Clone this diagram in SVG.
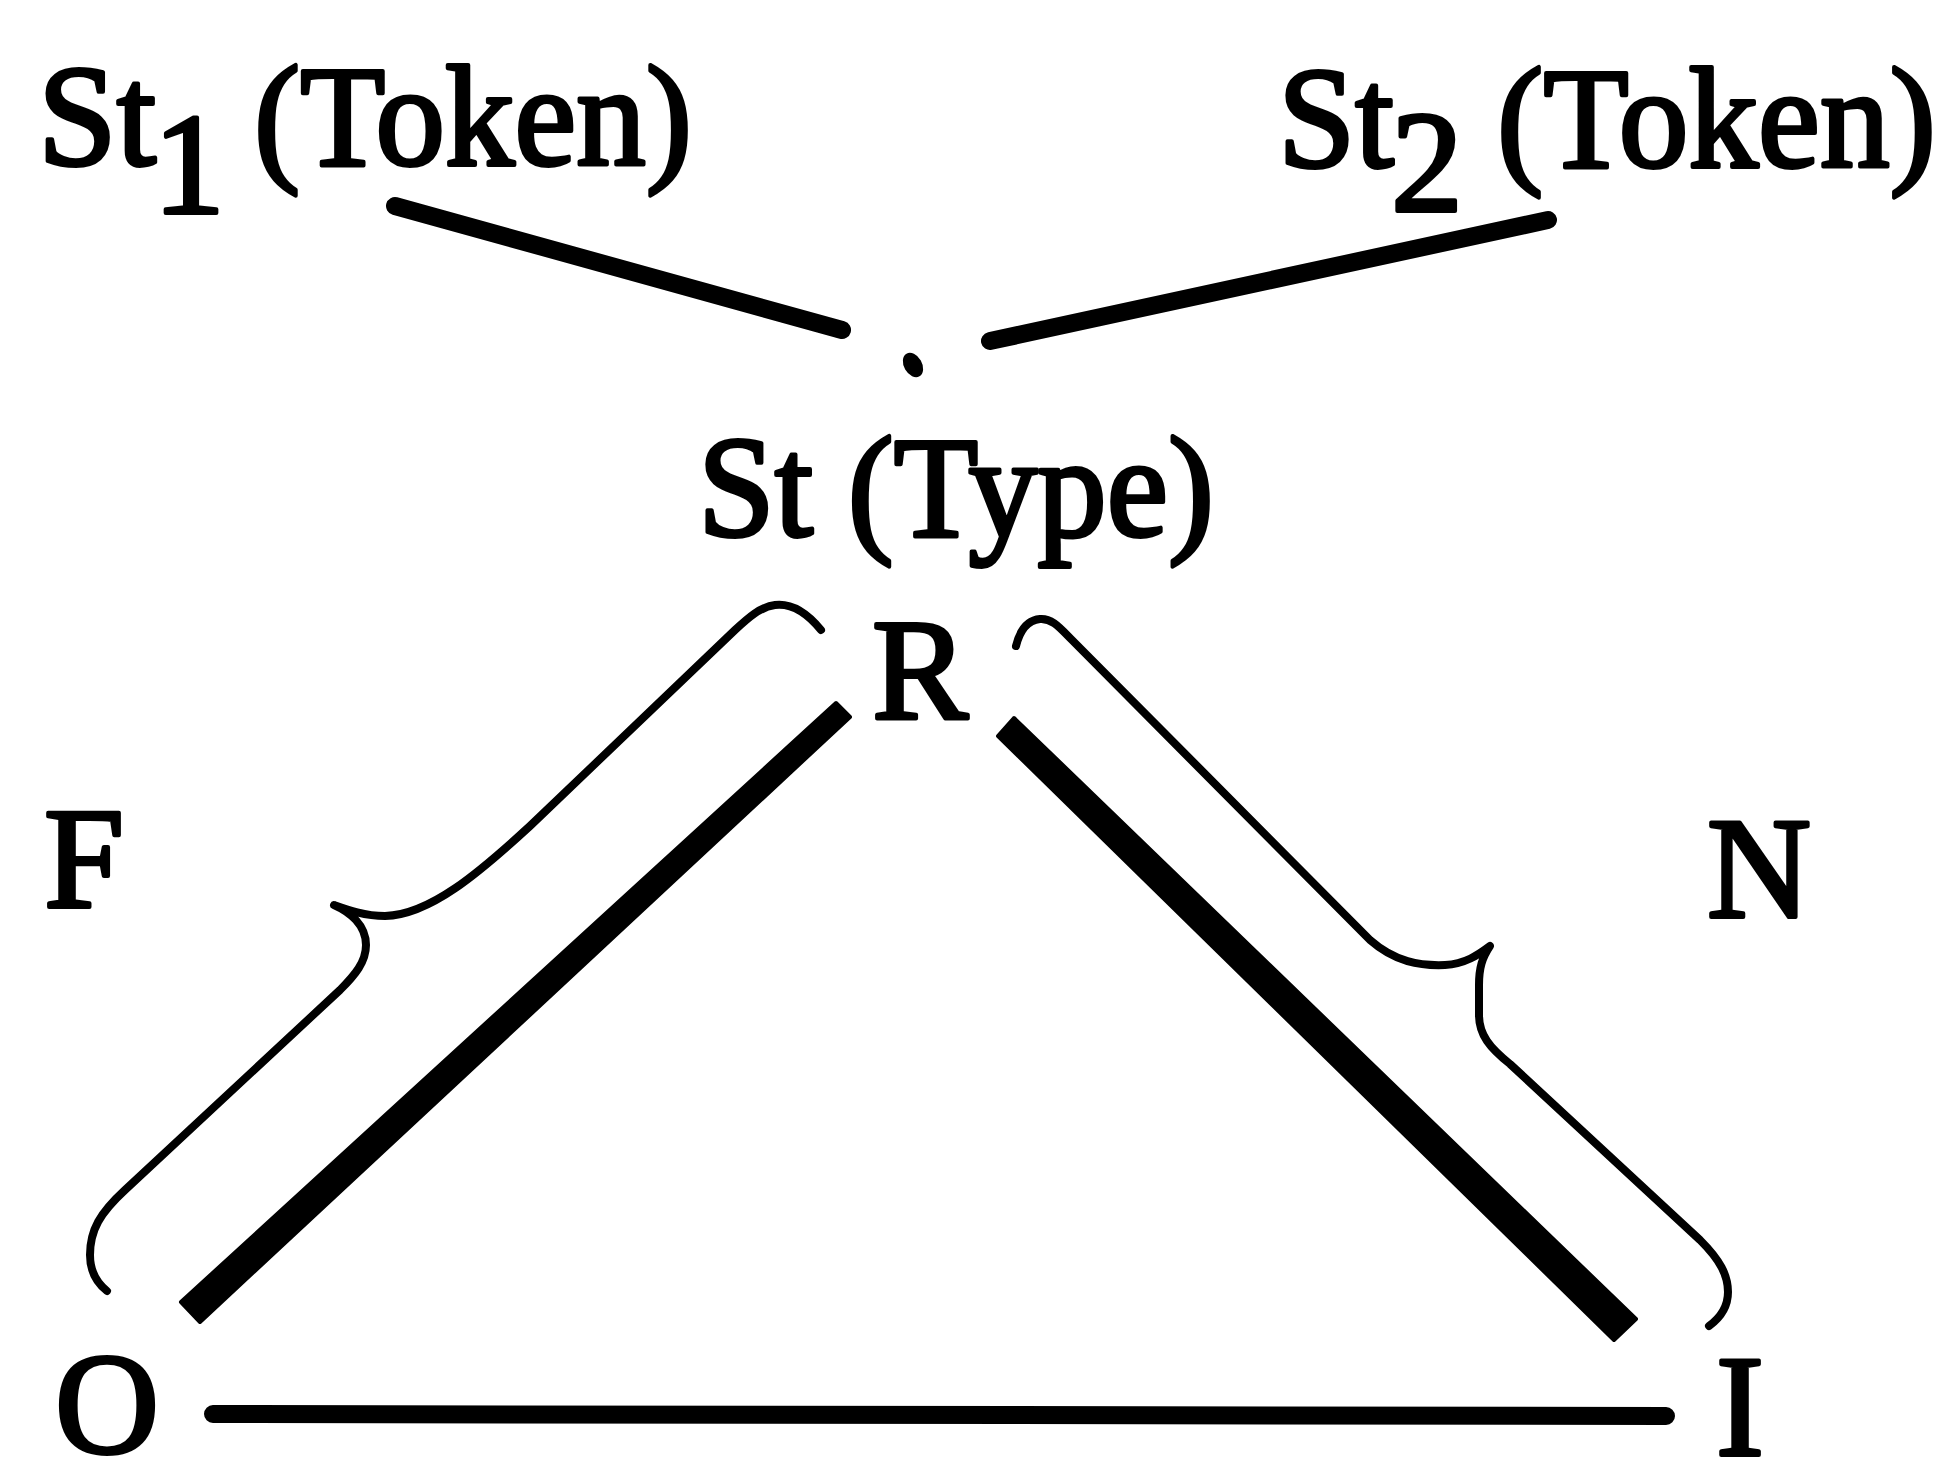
<svg xmlns="http://www.w3.org/2000/svg" width="1951" height="1462" viewBox="0 0 1951 1462">
  <style>
    .lbl { font-family: "Liberation Serif", "Times New Roman", serif; font-size: 144px; fill: #000; stroke: #000; stroke-width: 4; stroke-linejoin: round; }
    .thin { fill: none; stroke: #000; stroke-width: 18; stroke-linecap: round; }
    .brace { fill: none; stroke: #000; stroke-width: 8; stroke-linecap: round; stroke-linejoin: round; }
    .thick { fill: #000; stroke: #000; stroke-width: 4; stroke-linejoin: round; }
  </style>
  <rect width="1951" height="1462" fill="#fff"/>

  <g id="st1-token">
    <text class="lbl" x="38" y="165" textLength="118" lengthAdjust="spacingAndGlyphs">St</text>
    <text class="lbl" x="153" y="213">1</text>
    <text class="lbl" x="254" y="165" textLength="438" lengthAdjust="spacingAndGlyphs">(Token)</text>
  </g>
  <g id="st2-token">
    <text class="lbl" x="1278" y="167" textLength="116" lengthAdjust="spacingAndGlyphs">St</text>
    <text class="lbl" x="1391" y="211">2</text>
    <text class="lbl" x="1497" y="167" textLength="439" lengthAdjust="spacingAndGlyphs">(Token)</text>
  </g>
  <g id="st-type">
    <text class="lbl" x="698" y="536" textLength="516" lengthAdjust="spacingAndGlyphs">St (Type)</text>
  </g>
  <g id="node-R"><text class="lbl" x="872" y="718">R</text></g>
  <g id="label-F"><text class="lbl" x="44" y="907">F</text></g>
  <g id="label-N"><text class="lbl" x="1707" y="917">N</text></g>
  <g id="node-O"><text class="lbl" x="55" y="1453">O</text></g>
  <g id="node-I"><text class="lbl" x="1716" y="1455">I</text></g>

  <g id="connectors">
    <path class="thin" d="M 395 206 L 842 330"/>
    <path class="thin" d="M 990 341 L 1548 220"/>
    <ellipse cx="913" cy="365" rx="9" ry="13" transform="rotate(-30 913 365)" fill="#000"/>
    <path class="thin" d="M 213 1414 L 1666 1416" stroke-width="17"/>
    <polygon class="thick" points="836,703 850,717 200,1322 181,1302"/>
    <polygon class="thick" points="1014,718 998,736 1614,1340 1636,1319"/>
    <path class="brace" d="M 821 630 C 808 614 792 603 775 605 C 760 607 748 618 735 630 L 530 826 C 480 872 430 915 385 916 C 365 916 348 910 334 905 C 350 912 366 925 366 945 C 366 962 355 975 340 990 L 125 1190 C 100 1213 90 1230 90 1255 C 90 1272 97 1283 107 1291"/>
    <path class="brace" d="M 1016 646 C 1020 630 1028 620 1040 619 C 1052 618 1060 628 1072 640 L 1370 940 C 1395 962 1420 966 1445 965 C 1465 964 1478 955 1490 946 C 1482 958 1479 968 1479 985 L 1479 1015 C 1479 1035 1490 1048 1510 1064 L 1700 1240 C 1720 1260 1728 1275 1728 1292 C 1728 1308 1720 1318 1709 1326"/>
  </g>
</svg>
